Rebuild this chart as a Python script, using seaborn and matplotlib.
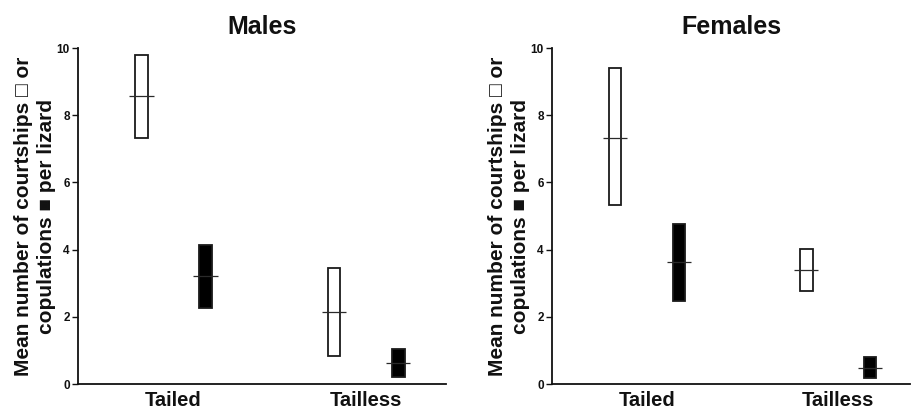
import matplotlib
matplotlib.use("Agg")
import matplotlib.pyplot as plt
import seaborn as sns
import pandas as pd

sns.set_theme(style="white")
plt.rcParams['font.family'] = ['Liberation Sans', 'DejaVu Sans']

categories = ["Tailed", "Tailless"]
behaviours = ["courtship", "copulation"]
panels = ["Males", "Females"]

# values (per lizard)
males_courtship_low = [7.33, 0.84]
males_courtship_high = [9.80, 3.44]
males_courtship_mean = [8.56, 2.13]
males_copulation_low = [2.26, 0.20]
males_copulation_high = [4.15, 1.05]
males_copulation_mean = [3.21, 0.64]

females_courtship_low = [5.32, 2.76]
females_courtship_high = [9.40, 4.02]
females_courtship_mean = [7.32, 3.38]
females_copulation_low = [2.46, 0.17]
females_copulation_high = [4.77, 0.80]
females_copulation_mean = [3.64, 0.48]

yticks = [0, 2, 4, 6, 8, 10]
ylabel = "Mean number of courtships \u25a1 or\ncopulations \u25a0 per lizard"

data = {
    "Males": {
        "courtship": (males_courtship_low, males_courtship_high, males_courtship_mean),
        "copulation": (males_copulation_low, males_copulation_high, males_copulation_mean),
    },
    "Females": {
        "courtship": (females_courtship_low, females_courtship_high, females_courtship_mean),
        "copulation": (females_copulation_low, females_copulation_high, females_copulation_mean),
    },
}

face = {"courtship": "white", "copulation": "black"}

fig = plt.figure(figsize=(9.11, 4.16), dpi=100)
axes_rects = {
    "Males": [0.0856, 0.0769, 0.404, 0.8077],
    "Females": [0.606, 0.0769, 0.393, 0.8077],
}
xlims = {"Males": (-0.496, 1.415), "Females": (-0.497, 1.377)}

group_width = 0.668
ink = "#111111"

for panel in panels:
    ax = fig.add_axes(axes_rects[panel])
    rows = []
    for beh in behaviours:
        low, high, mean = data[panel][beh]
        for i, cat in enumerate(categories):
            rows.append({"group": cat, "behaviour": beh,
                         "low": low[i], "high": high[i], "mean": mean[i]})
    df = pd.DataFrame(rows)

    # boxes spanning low..high
    sns.barplot(data=df, x="group", y="high", hue="behaviour",
                hue_order=behaviours, order=categories,
                palette=face, width=group_width, gap=0.8, dodge=True,
                errorbar=None, edgecolor="#1a1a1a", linewidth=1.3,
                legend=False, ax=ax, zorder=2)
    box_patches = list(ax.patches)
    k = 0
    for beh in behaviours:
        for cat in categories:
            r = df[(df.behaviour == beh) & (df.group == cat)].iloc[0]
            p = box_patches[k]
            p.set_y(r["low"])
            p.set_height(r["high"] - r["low"])
            k += 1

    # mean lines as zero-height wider bars
    sns.barplot(data=df, x="group", y="mean", hue="behaviour",
                hue_order=behaviours, order=categories,
                palette=face, width=group_width, gap=0.62, dodge=True,
                errorbar=None, fill=False, linewidth=0.9,
                legend=False, ax=ax, zorder=3)
    mean_patches = list(ax.patches)[len(box_patches):]
    for p in mean_patches:
        p.set_y(p.get_height())
        p.set_height(0)
        p.set_edgecolor("#2a2a2a")

    ax.set_xlim(*xlims[panel])
    ax.set_ylim(0, 10)
    ax.set_yticks(yticks)
    ax.set_yticklabels([str(t) for t in yticks], fontsize=8.5, fontweight="bold")
    ax.tick_params(axis="y", length=4, width=1, pad=2, colors=ink, left=True)
    ax.tick_params(axis="x", length=0, pad=5, colors=ink)
    for lbl in ax.get_xticklabels():
        lbl.set_fontsize(14.5)
        lbl.set_fontweight("bold")
    for s in ["top", "right"]:
        ax.spines[s].set_visible(False)
    for s in ["left", "bottom"]:
        ax.spines[s].set_color(ink)
        ax.spines[s].set_linewidth(1.3)
    ax.set_xlabel("")
    ax.set_ylabel(ylabel, fontsize=15, fontweight="bold", labelpad=0,
                  color=ink, linespacing=1.3)
    ax.set_title(panel, fontsize=18, fontweight="bold", pad=10, color=ink)
    ax.set_facecolor("white")

fig.savefig("out.png", dpi=100, facecolor="white")
